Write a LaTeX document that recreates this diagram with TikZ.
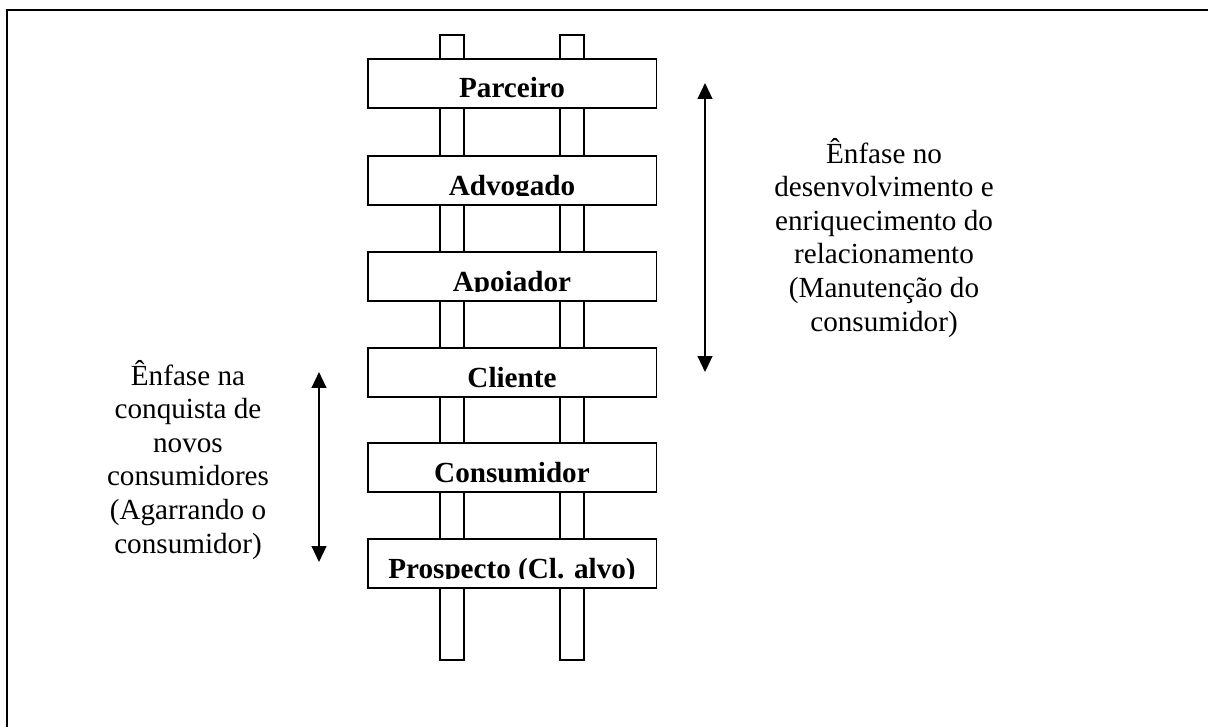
\documentclass[tikz,border=0pt]{standalone}
\usepackage{fontspec}
\setmainfont{Liberation Serif}
\usetikzlibrary{arrows.meta}

\tikzset{
	board/.style={draw, fill=white, line width=0.8pt, minimum width=118.9pt, minimum height=20.2pt, inner sep=0pt},
	boardtext/.style={anchor=base, inner sep=0pt, font=\fontsize{12}{13.8}\selectfont\bfseries},
	rail/.style={draw, fill=white, line width=0.8pt},
	note/.style={anchor=base, align=center, inner sep=0pt, font=\fontsize{12}{13.8}\selectfont},
	twoway/.style={{Triangle[width=6pt,length=6.5pt]}-{Triangle[width=6pt,length=6.5pt]}, line width=0.8pt},
}

\begin{document}
\begin{tikzpicture}[x=0.4115pt,y=-0.4115pt]
		\useasboundingbox (0,0) rectangle (1208,727);
		
		% Frame
		\draw[line width=1pt] (7,727) -- (7,10) -- (1208,10);
		
		% Rails
		\draw[rail] (440,35) rectangle (464,660);
		\draw[rail] (560,35) rectangle (584,660);
		
		% Boards
		\foreach \name/\ytop/\txt in {parceiro/59/Parceiro, advogado/156/Advogado, apoiador/252/Apoiador, cliente/348/Cliente, consumidor/443/Consumidor, prospecto/539/{Prospecto (Cl. alvo)}} {
			\node[board] (\name) at (512,\ytop+24.5) {};
			\begin{scope}
				\clip (368,\ytop) rectangle (656,\ytop+39.5);
				\node[boardtext] (\name-txt) at (512,\ytop+39) {\txt};
			\end{scope}
		}
		
		% Arrows
		\coordinate (keeptop) at (705,83);
		\coordinate (keepbot) at (705,372);
		\coordinate (wintop) at (319,372);
		\coordinate (winbot) at (319,562);
		\draw[twoway] (keeptop) -- (keepbot);
		\draw[twoway] (wintop) -- (winbot);
		
		% Notes (base = last line)
		\node[note] (keepnote) at (884,331) {Ênfase no\\desenvolvimento e\\enriquecimento do\\relacionamento\\(Manutenção do\\consumidor)};
		\node[note] (winnote) at (188,553) {Ênfase na\\conquista de\\novos\\consumidores\\(Agarrando o\\consumidor)};
\end{tikzpicture}
\end{document}
